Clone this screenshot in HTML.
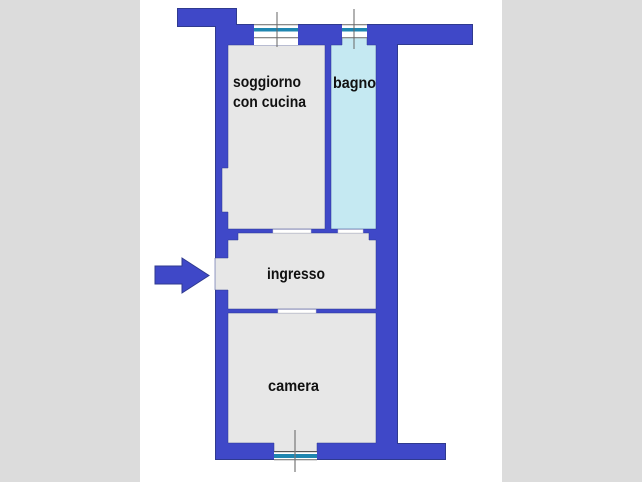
<!DOCTYPE html>
<html><head><meta charset="utf-8"><style>
html,body{margin:0;padding:0;width:642px;height:482px;overflow:hidden;background:#dcdcdc}
svg{display:block}
text{font-family:"Liberation Sans",sans-serif;font-weight:bold;font-size:16px;fill:#111}
</style></head><body>
<svg width="642" height="482" viewBox="0 0 642 482" xmlns="http://www.w3.org/2000/svg">
<rect x="140" y="0" width="362" height="482" fill="#fff"/>
<!-- walls -->
<path d="M177.500 8.500H236.500V24.500H472.500V44.500H397.500V443.500H445.500V459.500H215.500V26.500H177.500Z" fill="#3f48c8" stroke="#2f3a8f" stroke-width="1"/>
<!-- rooms -->
<path d="M228 45H325V229H228V212H222V168H228Z" fill="#e7e7e7" stroke="#2f3a8f" stroke-width="0.500"/>
<path d="M331 45H342V37H367V45H376V229H331Z" fill="#c5e9f2" stroke="#2f3a8f" stroke-width="0.500"/>
<path d="M238 233H369V240H376V309H228V290H215V258H228V240H238Z" fill="#e7e7e7" stroke="#2f3a8f" stroke-width="0.500"/>
<path d="M228 313H376V443H317V452H274V443H228Z" fill="#e7e7e7" stroke="#2f3a8f" stroke-width="0.500"/>
<!-- top window 1 -->
<rect x="254" y="24" width="44" height="21" fill="#fff"/>
<rect x="254" y="24" width="44" height="1.300" fill="#8a8a8a"/>
<rect x="254" y="28" width="44" height="3.500" fill="#1f86b0"/>
<rect x="254" y="37" width="44" height="1.300" fill="#8a8a8a"/>
<!-- top window 2 -->
<rect x="342" y="24" width="25" height="13" fill="#fff"/>
<rect x="342" y="24" width="25" height="1.300" fill="#8a8a8a"/>
<rect x="342" y="28" width="25" height="3.500" fill="#1f86b0"/>
<rect x="342" y="37" width="25" height="1.300" fill="#8a8a8a"/>
<!-- bottom window -->
<rect x="274" y="451" width="43" height="9" fill="#fff"/>
<rect x="274" y="451" width="43" height="1.200" fill="#555"/>
<rect x="274" y="454" width="43" height="4" fill="#1f86b0"/>
<rect x="274" y="459" width="43" height="1.300" fill="#8a8a8a"/>
<!-- window axes -->
<line x1="277" y1="12" x2="277" y2="47" stroke="#666" stroke-width="1"/>
<line x1="354" y1="9" x2="354" y2="49" stroke="#666" stroke-width="1"/>
<line x1="295" y1="430" x2="295" y2="472" stroke="#777" stroke-width="1.200"/>
<!-- doors -->
<rect x="273" y="229.500" width="38" height="3.500" fill="#fff" stroke="#c9c9c9" stroke-width="0.500"/>
<rect x="338" y="229.500" width="25" height="3.500" fill="#fff" stroke="#c9c9c9" stroke-width="0.500"/>
<rect x="278" y="309.500" width="38" height="3.500" fill="#fff" stroke="#c9c9c9" stroke-width="0.500"/>
<!-- arrow -->
<path d="M155 266H182V258L209 275.500L182 293V284H155Z" fill="#3f48c8" stroke="#2f3a8f" stroke-width="1"/>
<!-- labels -->
<text x="233" y="87" textLength="68" lengthAdjust="spacingAndGlyphs">soggiorno</text>
<text x="233" y="107" textLength="73" lengthAdjust="spacingAndGlyphs">con cucina</text>
<text x="333" y="88" textLength="43" lengthAdjust="spacingAndGlyphs">bagno</text>
<text x="267" y="279" textLength="58" lengthAdjust="spacingAndGlyphs">ingresso</text>
<text x="268" y="391" textLength="51" lengthAdjust="spacingAndGlyphs">camera</text>
</svg>
</body></html>
